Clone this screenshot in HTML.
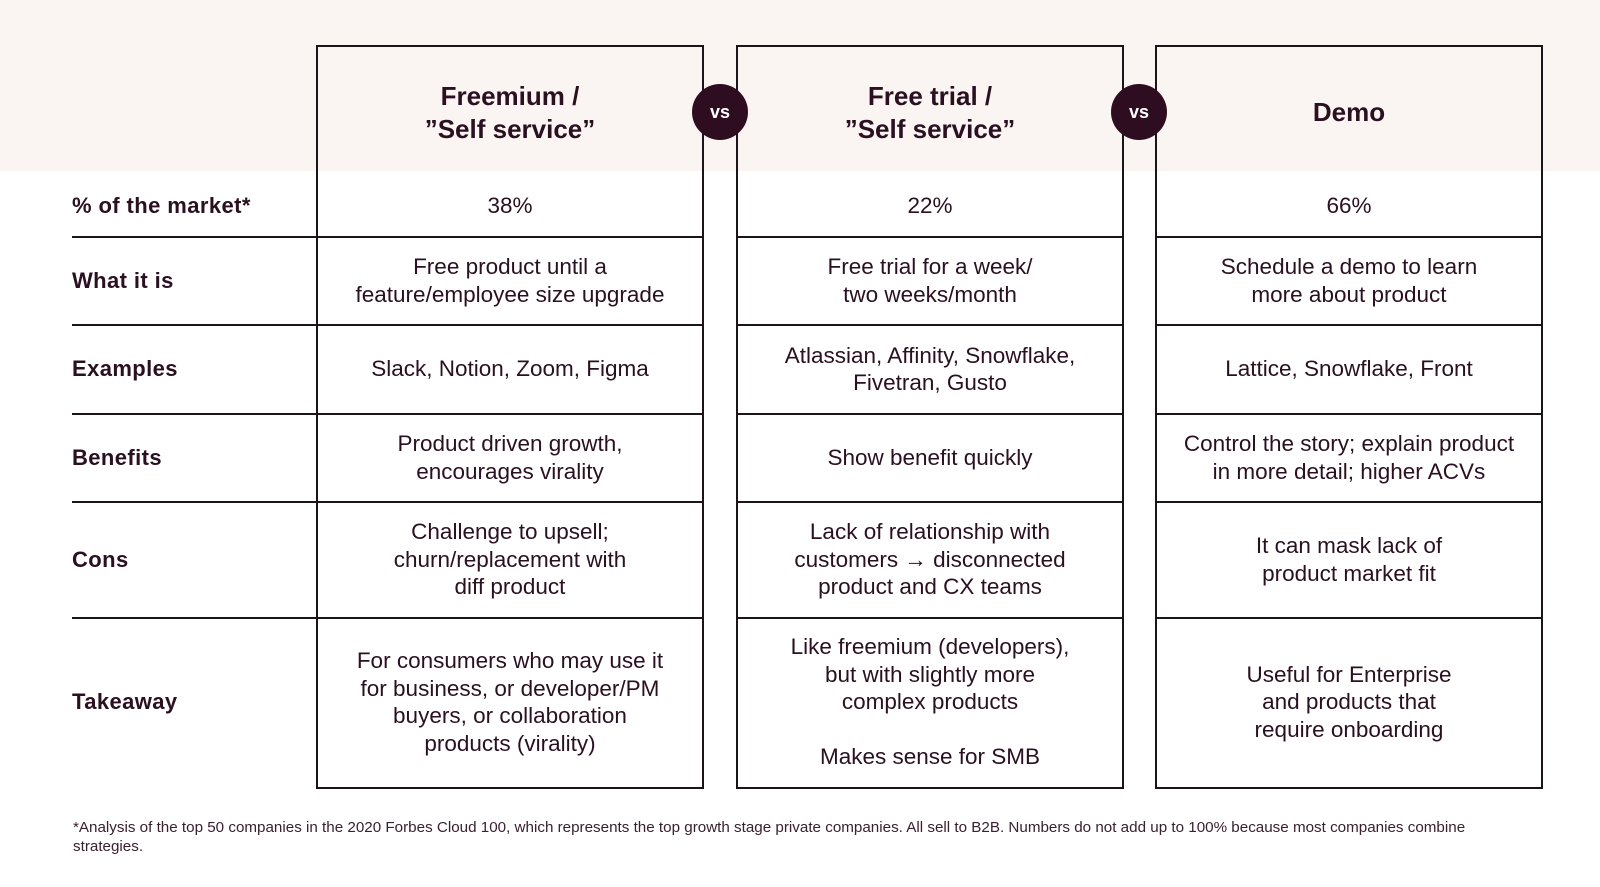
<!DOCTYPE html>
<html><head><meta charset="utf-8"><style>
body{margin:0;width:1600px;height:887px;position:relative;background:#fff;font-family:"Liberation Sans",sans-serif;color:#2a1020;overflow:hidden}
.band{position:absolute;left:0;top:0;width:1600px;height:171px;background:#faf5f2}
.box{position:absolute;top:45px;width:384px;height:740px;border:2px solid #1c1418;box-sizing:content-box}
.hl{position:absolute;height:2px;background:#1c1418}
.cell{position:absolute;display:flex;align-items:center;justify-content:center;text-align:center;font-size:22.5px;line-height:27.5px}
.hd{font-weight:bold;font-size:26px;line-height:33px}
.lab{position:absolute;left:72px;display:flex;align-items:center;font-weight:bold;font-size:22px;letter-spacing:0.4px}
.vs{position:absolute;width:56px;height:56px;border-radius:50%;background:#2e0d20;color:#fff;font-weight:bold;font-size:18px;display:flex;align-items:center;justify-content:center}
.foot{position:absolute;left:73px;top:818px;width:1480px;font-size:15.2px;line-height:19px;color:#3a2030}
</style></head><body>
<div class="band"></div>
<div class="box" style="left:316px"></div>
<div class="box" style="left:736px"></div>
<div class="box" style="left:1155px"></div>
<div class="vs" style="left:692px;top:84px">vs</div>
<div class="vs" style="left:1111px;top:84px">vs</div>
<div id="lines"></div>
<div class="cell hd" style="left:318px;top:60px;width:384px;height:105px">Freemium /<br>”Self service”</div>
<div class="cell hd" style="left:738px;top:60px;width:384px;height:105px">Free trial /<br>”Self service”</div>
<div class="cell hd" style="left:1157px;top:60px;width:384px;height:105px">Demo</div>
<div id="rows"></div>
<div class="foot">*Analysis of the top 50 companies in the 2020 Forbes Cloud 100, which represents the top growth stage private companies. All sell to B2B. Numbers do not add up to 100% because most companies combine<br>strategies.</div>
<script>
const rowLabels=["% of the market*","What it is","Examples","Benefits","Cons","Takeaway"];
const rowTops=[175,237,325,414,502,618];
const rowBottoms=[236,324,413,501,617,786];
const colFreemium=["38%","Free product until a<br>feature/employee size upgrade","Slack, Notion, Zoom, Figma","Product driven growth,<br>encourages virality","Challenge to upsell;<br>churn/replacement with<br>diff product","For consumers who may use it<br>for business, or developer/PM<br>buyers, or collaboration<br>products (virality)"];
const colTrial=["22%","Free trial for a week/<br>two weeks/month","Atlassian, Affinity, Snowflake,<br>Fivetran, Gusto","Show benefit quickly","Lack of relationship with<br>customers → disconnected<br>product and CX teams","Like freemium (developers),<br>but with slightly more<br>complex products<br><br>Makes sense for SMB"];
const colDemo=["66%","Schedule a demo to learn<br>more about product","Lattice, Snowflake, Front","Control the story; explain product<br>in more detail; higher ACVs","It can mask lack of<br>product market fit","Useful for Enterprise<br>and products that<br>require onboarding"];
const cols=[colFreemium,colTrial,colDemo];
const colLefts=[318,738,1157];
const rows=document.getElementById('rows');
const lines=document.getElementById('lines');
rowLabels.forEach((l,i)=>{
  const h=rowBottoms[i]-rowTops[i];
  const d=document.createElement('div');d.className='lab';
  d.style.top=rowTops[i]+'px';d.style.height=h+'px';d.textContent=l;
  
  
  rows.appendChild(d);
  cols.forEach((c,j)=>{
    const e=document.createElement('div');e.className='cell';
    e.style.left=colLefts[j]+'px';e.style.top=rowTops[i]+'px';e.style.width='384px';e.style.height=h+'px';
    e.innerHTML=c[i];
    
    
    rows.appendChild(e);
  });
  if(i<rowLabels.length-1){
    [[72,246],[318,386],[738,386],[1157,386]].forEach(s=>{
      const ln=document.createElement('div');ln.className='hl';
      ln.style.left=s[0]+'px';ln.style.width=s[1]+'px';ln.style.top=rowBottoms[i]+'px';
      
      
      lines.appendChild(ln);
    });
  }
});
</script>
</body></html>
